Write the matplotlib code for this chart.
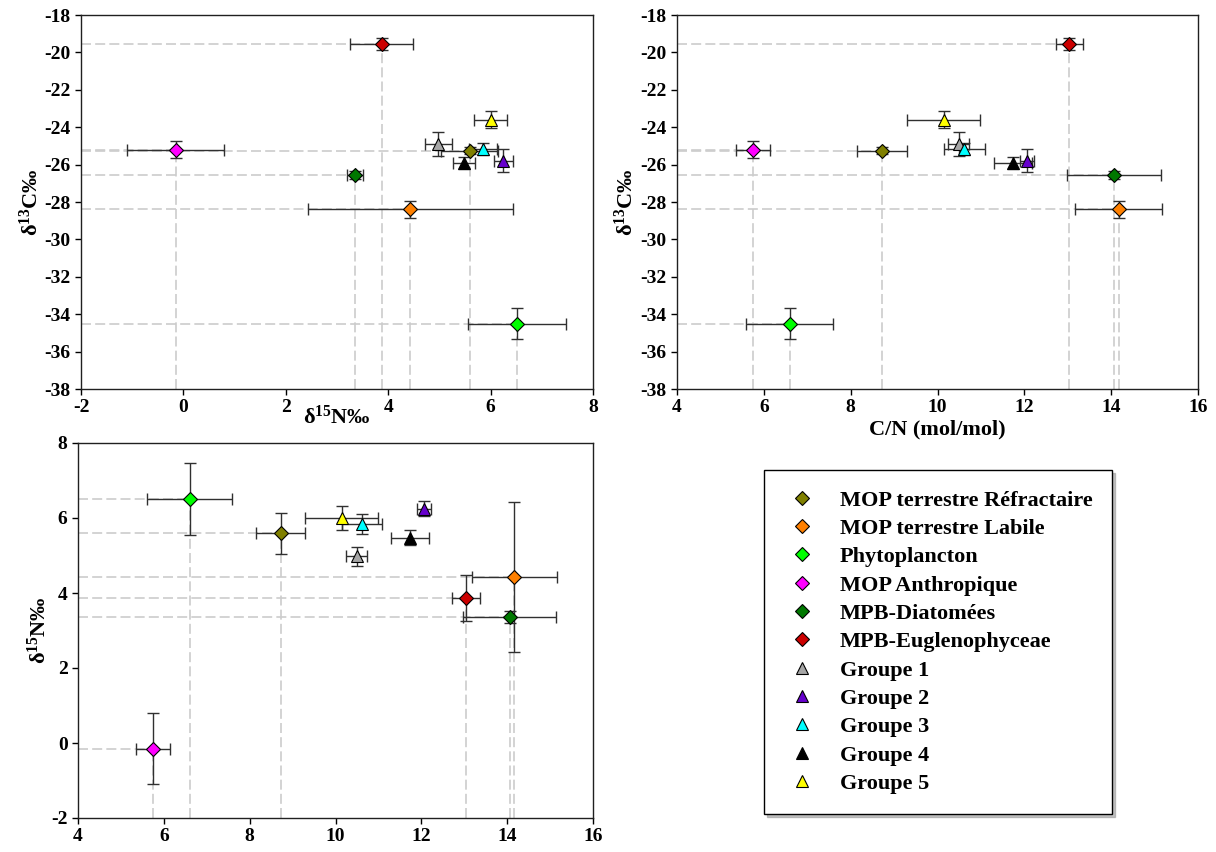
import matplotlib
matplotlib.use("Agg")
import matplotlib.pyplot as plt
from matplotlib.lines import Line2D

plt.rcParams['font.family'] = ['Liberation Serif', 'DejaVu Serif']
plt.rcParams['font.weight'] = 'bold'
plt.rcParams['axes.labelweight'] = 'bold'
plt.rcParams['axes.unicode_minus'] = False
plt.rcParams['mathtext.fontset'] = 'custom'
plt.rcParams['mathtext.rm'] = 'Liberation Serif:bold'
plt.rcParams['mathtext.it'] = 'Liberation Serif:italic:bold'
plt.rcParams['mathtext.bf'] = 'Liberation Serif:bold'

# sources (diamonds) then sample groups (triangles)
names = ['MOP terrestre Réfractaire', 'MOP terrestre Labile', 'Phytoplancton',
         'MOP Anthropique', 'MPB-Diatomées', 'MPB-Euglenophyceae',
         'Groupe 1', 'Groupe 2', 'Groupe 3', 'Groupe 4', 'Groupe 5']
colors = ['#808000', '#FF8000', '#00FF00', '#FF00FF', '#007800', '#CC0000',
          '#A6A6A6', '#6600CC', '#00FFFF', '#000000', '#FFFF00']
markers = ['D'] * 6 + ['^'] * 5

d15N = [5.59, 4.43, 6.51, -0.15, 3.35, 3.87, 4.98, 6.25, 5.85, 5.48, 6.00]
d15N_err = [0.55, 2.00, 0.96, 0.95, 0.16, 0.62, 0.26, 0.19, 0.27, 0.21, 0.33]
d13C = [-25.25, -28.40, -34.50, -25.20, -26.55, -19.55, -24.90, -25.80, -25.17, -25.93, -23.60]
d13C_err = [0.20, 0.43, 0.82, 0.45, 0.20, 0.33, 0.64, 0.62, 0.31, 0.33, 0.45]
cn = [8.72, 14.17, 6.60, 5.75, 14.06, 13.04, 10.49, 12.06, 10.62, 11.74, 10.14]
cn_err = [0.57, 1.00, 1.00, 0.40, 1.08, 0.32, 0.24, 0.17, 0.47, 0.44, 0.84]

n_sources = 6

W, H = 1216, 852
fig = plt.figure(figsize=(W / 100, H / 100), dpi=100)


def msize(m):
    return 8 if m == '^' else 7.2


def panel(rect, x, xe, y, ye, xlim, ylim, xticks, yticks):
    ax = fig.add_axes(rect)
    ax.set_xlim(xlim)
    ax.set_ylim(ylim)
    # dashed drop lines from the axes to each source
    for i in range(n_sources):
        ax.plot([xlim[0], x[i]], [y[i], y[i]], color='#CCCCCC', lw=1.2,
                dashes=(6, 2.5), zorder=1)
        ax.plot([x[i], x[i]], [ylim[0], y[i]], color='#CCCCCC', lw=1.2,
                dashes=(6, 2.5), zorder=1)
    for i in range(len(names)):
        ax.errorbar(x[i], y[i], xerr=xe[i], yerr=ye[i], fmt='none',
                    ecolor='#303030', elinewidth=1, capsize=4, capthick=1, zorder=2)
        ax.plot(x[i], y[i], marker=markers[i], ms=msize(markers[i]),
                mfc=colors[i], mec='black', mew=0.8, ls='none', zorder=3)
    ax.set_xticks(xticks)
    ax.set_yticks(yticks)
    ax.tick_params(direction='out', length=4, width=1, labelsize=14)
    for s in ax.spines.values():
        s.set_linewidth(1)
        s.set_color('#202020')
    return ax


ax1 = panel([81 / W, 1 - 389 / H, 512 / W, 374 / H], d15N, d15N_err, d13C, d13C_err,
            (-2, 8), (-38, -18), range(-2, 9, 2), range(-38, -17, 2))
ax1.set_xlabel('δ$^{15}$N‰', fontsize=16, labelpad=-8)
ax1.set_ylabel('δ$^{13}$C‰', fontsize=16, labelpad=1)

ax2 = panel([677 / W, 1 - 389 / H, 521 / W, 374 / H], cn, cn_err, d13C, d13C_err,
            (4, 16), (-38, -18), range(4, 17, 2), range(-38, -17, 2))
ax2.set_xlabel('C/N (mol/mol)', fontsize=16, labelpad=2)
ax2.set_ylabel('δ$^{13}$C‰', fontsize=16, labelpad=2)

ax3 = panel([78 / W, 1 - 818 / H, 515 / W, 375 / H], cn, cn_err, d15N, d15N_err,
            (4, 16), (-2, 8), range(4, 17, 2), range(-2, 9, 2))
ax3.set_ylabel('δ$^{15}$N‰', fontsize=16, labelpad=0)

handles = [Line2D([], [], marker=markers[i], ls='none', mfc=colors[i], mec='black',
                  mew=0.8, ms=msize(markers[i]))
           for i in range(len(names))]
leg = fig.legend(handles, names, loc='upper left',
                 bbox_to_anchor=(764 / W, 1 - 470 / H, (1112 - 764) / W, 0),
                 mode='expand', borderaxespad=0, fontsize=16, frameon=True,
                 fancybox=False, shadow={'color': '#999999', 'alpha': 0.6},
                 edgecolor='black', handletextpad=0.9, labelspacing=0.35,
                 borderpad=0.9, handlelength=1.62)
leg.get_frame().set_linewidth(1)

fig.savefig('out.png', dpi=100)
